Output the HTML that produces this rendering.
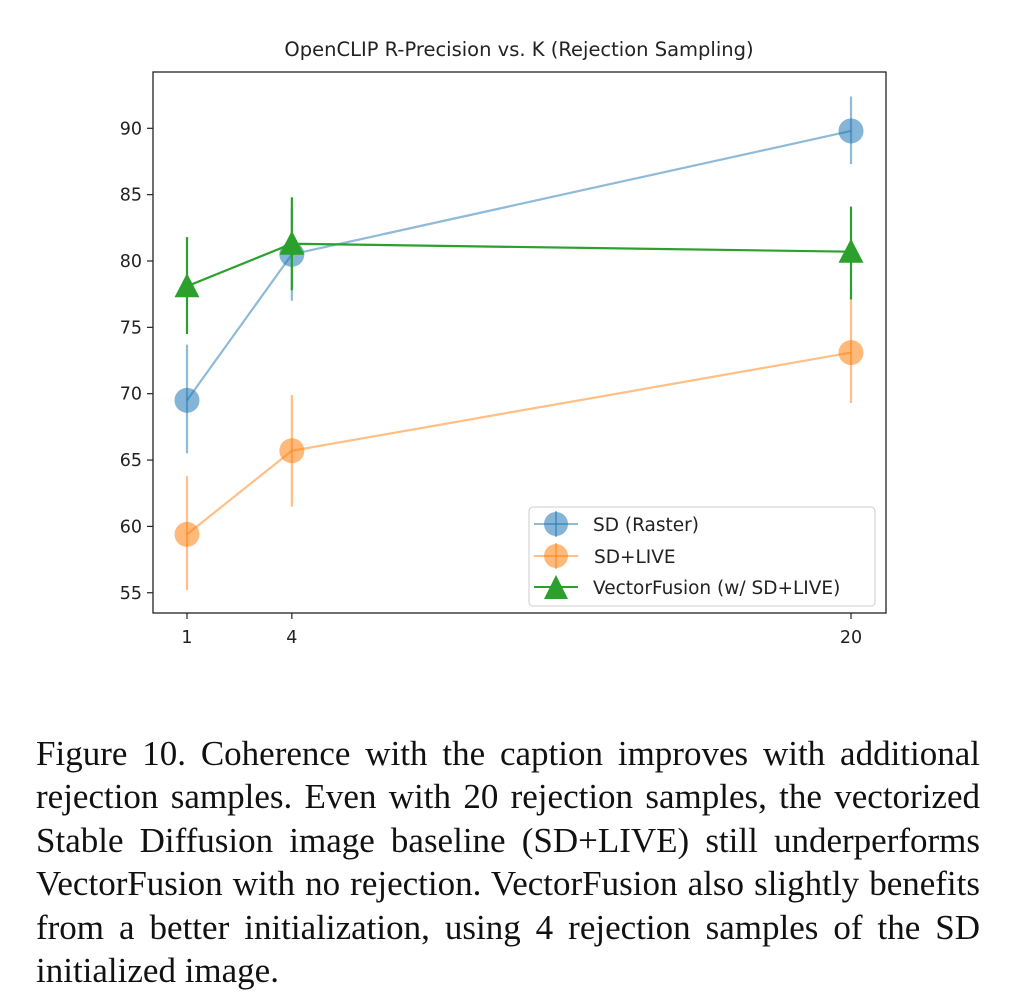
<!DOCTYPE html>
<html><head><meta charset="utf-8"><style>
body{margin:0;background:#fff;width:1010px;height:1000px;overflow:hidden}
svg text{font-family:"DejaVu Sans",sans-serif;fill:#222}
.cap{position:absolute;left:36px;top:732px;width:944px;font-family:"Liberation Serif",serif;font-size:35px;line-height:43.4px;color:#111}
.cap div{text-align:justify;text-align-last:justify;white-space:nowrap}
.cap div.last{text-align-last:left}
</style></head><body>
<svg id="chart" width="1010" height="720" style="position:absolute;left:0;top:0">
<text x="519" y="56" font-size="19.5" text-anchor="middle">OpenCLIP R-Precision vs. K (Rejection Sampling)</text>
<g id="axes"></g><g id="marks"></g>
<rect x="153" y="72" width="733" height="541" fill="none" stroke="#222" stroke-width="1.3"/>
<g id="legend">
<rect x="529" y="507" width="346" height="99" rx="4" fill="#fff" stroke="#ccc"/>
<g>
<line x1="534" x2="578" y1="524" y2="524" stroke="#1f77b4" stroke-opacity=".5" stroke-width="2"/><line x1="556" x2="556" y1="511" y2="537" stroke="#1f77b4" stroke-opacity=".5" stroke-width="2"/><circle cx="556" cy="524" r="12" fill="#1f77b4" fill-opacity=".55"/>
<text x="593" y="531" font-size="18.5">SD (Raster)</text></g>
<g>
<line x1="534" x2="578" y1="556" y2="556" stroke="#ff7f0e" stroke-opacity=".5" stroke-width="2"/><line x1="556" x2="556" y1="543" y2="569" stroke="#ff7f0e" stroke-opacity=".5" stroke-width="2"/><circle cx="556" cy="556" r="12" fill="#ff7f0e" fill-opacity=".55"/>
<text x="594" y="563" font-size="18.5">SD+LIVE</text></g>
<g>
<line x1="534" x2="578" y1="587" y2="587" stroke="#2ca02c" stroke-width="2"/><polygon points="556,575 568,599 544,599" fill="#2ca02c"/>
<text x="593" y="594" font-size="18.5">VectorFusion (w/ SD+LIVE)</text></g>
</g>
</svg>
<div class="cap">
<div>Figure 10. Coherence with the caption improves with additional</div>
<div>rejection samples. Even with 20 rejection samples, the vectorized</div>
<div>Stable Diffusion image baseline (SD+LIVE) still underperforms</div>
<div>VectorFusion with no rejection. VectorFusion also slightly benefits</div>
<div>from a better initialization, using 4 rejection samples of the SD</div>
<div class="last">initialized image.</div>
</div>
<script>
const kValues=[1,4,20];
const yTicks=[55,60,65,70,75,80,85,90];
const sdRaster=[69.5,80.5,89.8];
const sdRasterLo=[65.5,77.0,87.3];
const sdRasterHi=[73.7,84.0,92.4];
const sdLive=[59.4,65.7,73.1];
const sdLiveLo=[55.2,61.5,69.3];
const sdLiveHi=[63.8,69.9,77.2];
const vf=[78.1,81.3,80.7];
const vfLo=[74.5,77.8,77.1];
const vfHi=[81.8,84.8,84.1];
const NS="http://www.w3.org/2000/svg";
const xS=k=>187+(k-1)*(851-187)/19;
const yS=v=>128.3+(90-v)*13.27;
function mk(tag,attrs,parent){const e=document.createElementNS(NS,tag);for(const a in attrs)e.setAttribute(a,attrs[a]);parent.appendChild(e);return e;}
const axes=document.getElementById('axes'),marks=document.getElementById('marks');
yTicks.forEach(t=>{const y=yS(t);
const l=mk('line',{x1:147,x2:153,y1:y,y2:y,stroke:'#222','stroke-width':1.2},axes);


const tx=mk('text',{x:142,y:y+6,'font-size':17.5,'text-anchor':'end'},axes);tx.textContent=t;

});
kValues.forEach(k=>{const x=xS(k);
const l=mk('line',{x1:x,x2:x,y1:613,y2:619,stroke:'#222','stroke-width':1.2},axes);


const tx=mk('text',{x:x,y:643,'font-size':17.5,'text-anchor':'middle'},axes);tx.textContent=k;

});
function series(name,vals,lo,hi,color,op,tri){
const g=mk('g',{},marks);


const pts=vals.map((v,i)=>xS(kValues[i])+','+yS(v)).join(' ');
const pl=mk('polyline',{points:pts,fill:'none',stroke:color,'stroke-opacity':op,'stroke-width':2.2},g);


vals.forEach((v,i)=>{const x=xS(kValues[i]),y=yS(v);
const e=mk('line',{x1:x,x2:x,y1:yS(lo[i]),y2:yS(hi[i]),stroke:color,'stroke-opacity':op,'stroke-width':2.2},g);


let m;
if(tri)m=mk('polygon',{points:`${x},${y-13} ${x+12.5},${y+11} ${x-12.5},${y+11}`,fill:color},g);
else m=mk('circle',{cx:x,cy:y,r:12.5,fill:color,'fill-opacity':0.55},g);

});}
series('sd-raster',sdRaster,sdRasterLo,sdRasterHi,'#1f77b4',0.5,false);
series('sd-live',sdLive,sdLiveLo,sdLiveHi,'#ff7f0e',0.5,false);
series('vectorfusion',vf,vfLo,vfHi,'#2ca02c',1,true);
</script>
</body></html>
